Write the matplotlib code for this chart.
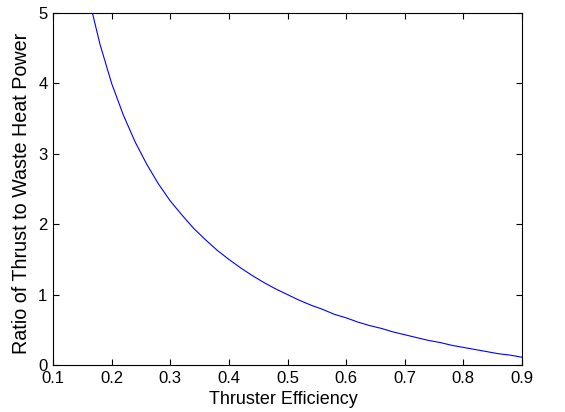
import matplotlib
matplotlib.use("Agg")
import matplotlib.pyplot as plt

efficiency = [0.16, 0.18, 0.20, 0.22, 0.24, 0.26, 0.28, 0.30, 0.32, 0.34, 0.36, 0.38,
              0.40, 0.42, 0.44, 0.46, 0.48, 0.50, 0.52, 0.54, 0.56, 0.58, 0.60, 0.62,
              0.64, 0.66, 0.68, 0.70, 0.72, 0.74, 0.76, 0.78, 0.80, 0.82, 0.84, 0.86,
              0.88, 0.90]
ratio = [5.25, 4.56, 4.00, 3.55, 3.17, 2.85, 2.57, 2.33, 2.13, 1.94, 1.78, 1.63,
         1.50, 1.38, 1.27, 1.17, 1.08, 1.00, 0.92, 0.85, 0.79, 0.72, 0.67, 0.61,
         0.56, 0.52, 0.47, 0.43, 0.39, 0.35, 0.32, 0.28, 0.25, 0.22, 0.19, 0.16,
         0.14, 0.11]
xticks = [0.1, 0.2, 0.3, 0.4, 0.5, 0.6, 0.7, 0.8, 0.9]
yticks = [0, 1, 2, 3, 4, 5]

plt.rcParams['font.family'] = ['Liberation Sans', 'DejaVu Sans']
fig = plt.figure(figsize=(5.65, 4.12), dpi=100)
ax = fig.add_axes([53/565, 47/412, (522-53)/565, (365-13)/412])
ax.plot(efficiency, ratio, color='#0000ff', linewidth=0.8)
ax.set_xlim(0.1, 0.9)
ax.set_ylim(0, 5)
ax.set_xticks(xticks)
ax.set_xticklabels([f"{t:g}" for t in xticks])
ax.set_yticks(yticks)
ax.tick_params(direction='in', top=True, right=True, labelsize=12, length=4, width=0.8, pad=4)
for s in ax.spines.values():
    s.set_linewidth(0.8)
ax.set_xlabel('Thruster Efficiency', fontsize=13, labelpad=4)
ax.set_ylabel('Ratio of Thrust to Waste Heat Power', fontsize=14.2, labelpad=5)
ax.xaxis.label.set_x(0.492)
ax.yaxis.label.set_y(0.487)
fig.savefig('out.png', dpi=100)
